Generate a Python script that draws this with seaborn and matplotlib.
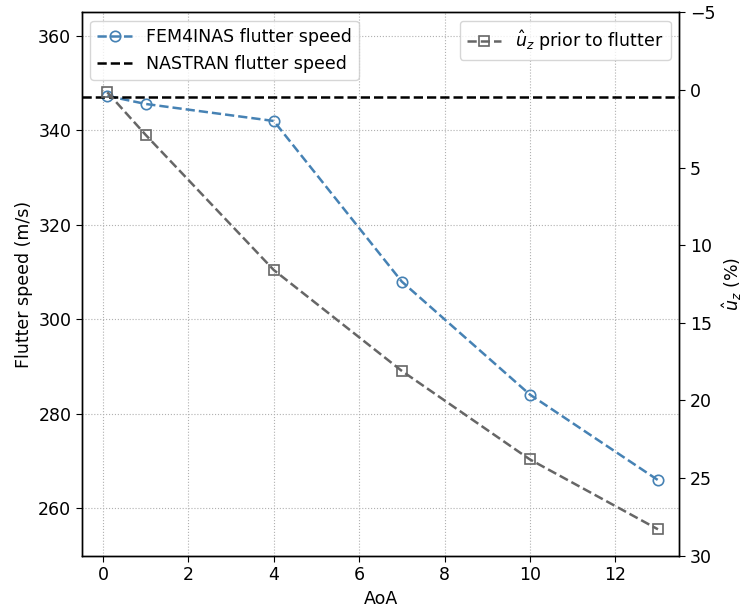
import matplotlib
matplotlib.use("Agg")
import matplotlib.pyplot as plt
import seaborn as sns
import pandas as pd

aoa = [0.1, 1, 4, 7, 10, 13]
fem_speed = [347.3, 345.6, 342.0, 308.0, 284.1, 266.0]
uz_percent = [0.15, 2.9, 11.6, 18.1, 23.8, 28.3]
nastran_speed = 347.1

left_ticks = [260, 280, 300, 320, 340, 360]
right_ticks = [-5, 0, 5, 10, 15, 20, 25, 30]
x_ticks = [0, 2, 4, 6, 8, 10, 12]

FS = 12.5

sns.set_style("ticks")
plt.rcParams["font.family"] = ["DejaVu Sans"]
plt.rcParams["font.size"] = FS
plt.rcParams["text.color"] = "black"
plt.rcParams["axes.labelcolor"] = "black"
plt.rcParams["legend.edgecolor"] = "#cccccc"

fig = plt.figure(figsize=(7.43, 6.13), dpi=100)
ax = fig.add_axes([81.7/743, 1-555.7/613, (679.3-81.7)/743, (555.7-12.3)/613])

df = pd.DataFrame({"AoA": aoa, "speed": fem_speed, "uz": uz_percent})

blue = "#4682b4"
gray = "#666666"

sns.lineplot(data=df, x="AoA", y="speed", ax=ax, color=blue, linestyle="--",
             marker="o", markersize=7.5, markerfacecolor="none", markeredgecolor=blue,
             markeredgewidth=1.2, linewidth=1.8, label="FEM4INAS flutter speed")
ax.axhline(nastran_speed, color="black", linestyle="--", linewidth=1.8,
           label="NASTRAN flutter speed")
ax.set_xlim(-0.5, 13.5)
ax.set_ylim(250, 365)
ax.set_xticks(x_ticks)
ax.set_yticks(left_ticks)
ax.grid(True, linestyle=":", color="#b0b0b0", linewidth=0.8)
ax.set_xlabel("AoA", fontsize=FS, color="black")
ax.set_ylabel("Flutter speed (m/s)", fontsize=FS, color="black")
ax.legend(loc="upper left", fontsize=FS, labelcolor="black")

ax2 = ax.twinx()
sns.lineplot(data=df, x="AoA", y="uz", ax=ax2, color=gray, linestyle="--",
             marker="s", markersize=7.5, markerfacecolor="none", markeredgecolor=gray,
             markeredgewidth=1.2, linewidth=1.8, label=r"$\hat{u}_z$ prior to flutter")
ax2.set_ylim(30, -5)
ax2.set_yticks(right_ticks)
ax2.set_ylabel(r"$\hat{u}_z$ (%)", fontsize=FS, color="black")
ax2.legend(loc="upper right", fontsize=FS, labelcolor="black")
ax2.grid(False)

for a in (ax, ax2):
    for s in a.spines.values():
        s.set_visible(True)
        s.set_color("black")
        s.set_linewidth(1.0)
    a.tick_params(colors="black", labelcolor="black", labelsize=FS, direction="out", length=4)

fig.savefig("out.png", dpi=100)
